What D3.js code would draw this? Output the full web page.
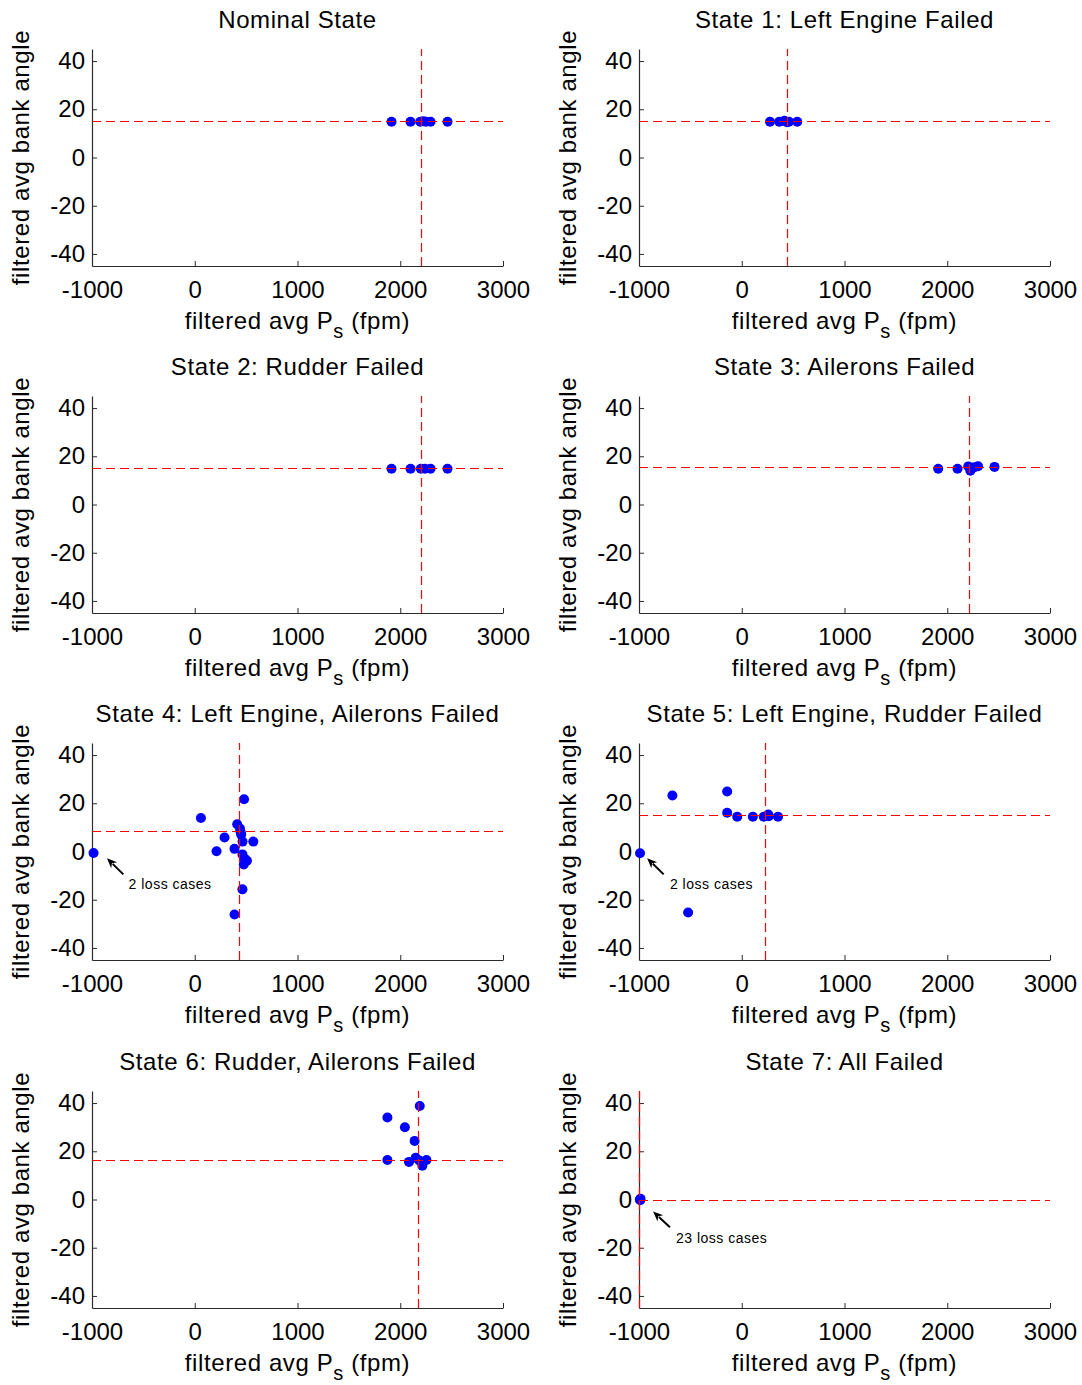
<!DOCTYPE html>
<html>
<head>
<meta charset="utf-8">
<script src="https://cdn.jsdelivr.net/npm/d3@7"></script>
<style>
  body { margin: 0; background: #fff; }
  svg { display: block; }
  text { font-family: "Liberation Sans", Arial, Helvetica, sans-serif; fill: #000; }
</style>
</head>
<body>
<svg id="chart" width="1082" height="1385"></svg>
<script>
// ---- panel titles and shared axis settings ----
const titles = [
  "Nominal State",
  "State 1: Left Engine Failed",
  "State 2: Rudder Failed",
  "State 3: Ailerons Failed",
  "State 4: Left Engine, Ailerons Failed",
  "State 5: Left Engine, Rudder Failed",
  "State 6: Rudder, Ailerons Failed",
  "State 7: All Failed"
];
const xTickValues = [-1000, 0, 1000, 2000, 3000];
const yTickValues = [-40, -20, 0, 20, 40];
const xDomain = [-1000, 3000];
const yDomain = [-45, 45];

// ---- filtered averages per run (Ps in fpm, bank angle in deg) ----
const nominalX = [1915, 2100, 2195, 2225, 2250, 2295, 2460];
const nominalY = [14.8, 14.8, 14.8, 15.0, 14.8, 14.8, 14.8];
const state1X = [275, 365, 415, 440, 460, 540];
const state1Y = [14.8, 14.8, 15.2, 14.6, 14.8, 14.8];
const state2X = [1915, 2100, 2200, 2240, 2295, 2460];
const state2Y = [14.8, 14.8, 14.8, 14.8, 14.8, 14.8];
const state3X = [1912, 2100, 2205, 2225, 2240, 2265, 2300, 2460];
const state3Y = [14.8, 14.8, 15.8, 14.0, 15.0, 15.5, 15.9, 15.6];
const state4X = [-985, 60, 480, 413, 440, 447, 452, 290, 465, 570, 212, 387, 464, 487, 508, 477, 464, 387];
const state4Y = [-0.6, 13.9, 21.7, 11.3, 9.5, 8.0, 7.0, 5.8, 4.1, 4.1, 0.1, 1.1, -1.2, -3.0, -3.8, -5.4, -15.7, -26.1];
const state5X = [-990, -675, -522, -142, -142, -44, 108, 214, 258, 264, 353];
const state5Y = [-0.7, 23.2, -25.3, 24.9, 16.1, 14.4, 14.4, 14.4, 15.3, 14.6, 14.4];
const state6X = [1875, 2190, 2045, 2140, 1875, 2085, 2150, 2185, 2215, 2255];
const state6Y = [34.0, 38.8, 30.0, 24.3, 16.4, 15.6, 17.3, 16.2, 14.0, 16.4];
const state7X = [-992, -988, -985];
const state7Y = [0.0, -0.3, 0.3];

// ---- mean reference lines (dashed crosshair) per state ----
const refX = [2205, 440, 2205, 2210, 430, 228, 2170, -1000];
const refY = [15.1, 15.3, 15.0, 15.6, 8.4, 15.0, 16.5, 0];

// ---- loss-case callouts ----
const notePanel = [4, 5, 7];
const noteText = ["2 loss cases", "2 loss cases", "23 loss cases"];
const noteTipX = [-854, -921, -863];
const noteTipY = [-2.8, -2.8, -5.0];
const noteTailX = [-695, -760, -699];
const noteTailY = [-9.5, -9.5, -11.5];
const noteLabelX = [-644, -699, -640];
const noteLabelY = [-15.4, -15.4, -17.9];

const seriesX = [nominalX, state1X, state2X, state3X, state4X, state5X, state6X, state7X];
const seriesY = [nominalY, state1Y, state2Y, state3Y, state4Y, state5Y, state6Y, state7Y];

// ---- layout ----
const colLeft = [92, 639];
const rowTop = [49, 396, 743, 1091];
const plotW = 411;
const plotH = 217;

const svg = d3.select("#chart");
const plainNumber = d => String(d); // ASCII hyphen for negatives

titles.forEach((title, i) => {
  const col = i % 2, row = Math.floor(i / 2);
  const x0 = colLeft[col], y0 = rowTop[row];
  const g = svg.append("g").attr("transform", `translate(${x0},${y0})`);

  const x = d3.scaleLinear().domain(xDomain).range([0, plotW]);
  const y = d3.scaleLinear().domain(yDomain).range([plotH, 0]);

  // axes (ticks point inward, no box)
  const xAxis = d3.axisBottom(x).tickValues(xTickValues).tickFormat(plainNumber)
    .tickSizeInner(-5).tickSizeOuter(0).tickPadding(15);
  const yAxis = d3.axisLeft(y).tickValues(yTickValues).tickFormat(plainNumber)
    .tickSizeInner(-5).tickSizeOuter(0).tickPadding(7);

  const gx = g.append("g").attr("transform", `translate(0,${plotH})`).call(xAxis);
  const gy = g.append("g").call(yAxis);
  [gx, gy].forEach(a => {
    a.selectAll("path.domain").attr("stroke", "#2b2b2b").attr("stroke-width", 1.2);
    a.selectAll(".tick line").attr("stroke", "#2b2b2b").attr("stroke-width", 1);
    a.selectAll(".tick text")
      .attr("font-family", "'Liberation Sans', Arial, sans-serif")
      .attr("font-size", 24).attr("fill", "#000");
  });

  // title
  g.append("text")
    .attr("x", plotW / 2).attr("y", -21)
    .attr("text-anchor", "middle")
    .attr("font-size", 24).attr("letter-spacing", 0.6)
    .text(title);

  // x label with subscript
  const xl = g.append("text")
    .attr("x", plotW / 2).attr("y", plotH + 63)
    .attr("text-anchor", "middle")
    .attr("font-size", 24).attr("letter-spacing", 0.6);
  xl.append("tspan").text("filtered avg P");
  xl.append("tspan").attr("dy", 9).attr("font-size", 20).text("s");
  xl.append("tspan").attr("dy", -9).text(" (fpm)");

  // y label
  g.append("text")
    .attr("transform", `translate(-63,${plotH / 2}) rotate(-90)`)
    .attr("text-anchor", "middle")
    .attr("font-size", 24).attr("letter-spacing", 0.6)
    .text("filtered avg bank angle");

  // points
  const pts = seriesX[i].map((v, k) => [v, seriesY[i][k]]);
  g.append("g").selectAll("circle").data(pts).join("circle")
    .attr("cx", d => x(d[0])).attr("cy", d => y(d[1]))
    .attr("r", 5).attr("fill", "#0000ff");

  // dashed reference crosshair
  g.append("line")
    .attr("x1", x(xDomain[0])).attr("x2", x(xDomain[1]))
    .attr("y1", Math.round(y(refY[i])) + 0.5).attr("y2", Math.round(y(refY[i])) + 0.5)
    .attr("stroke", "#ff0000").attr("stroke-width", 1)
    .attr("stroke-dasharray", "9,5");
  g.append("line")
    .attr("x1", Math.round(x(refX[i])) + 0.5).attr("x2", Math.round(x(refX[i])) + 0.5)
    .attr("y1", y(yDomain[0])).attr("y2", y(yDomain[1]))
    .attr("stroke", "#ff0000").attr("stroke-width", 1.2)
    .attr("stroke-dasharray", "9,5");

  // callouts
  notePanel.forEach((p, n) => {
    if (p !== i) return;
    const tx = x(noteTipX[n]), ty = y(noteTipY[n]);
    const sx = x(noteTailX[n]), sy = y(noteTailY[n]);
    const ang = Math.atan2(ty - sy, tx - sx);
    const len = 10, half = 4.2;
    const bx = tx - len * Math.cos(ang), by = ty - len * Math.sin(ang);
    const nx = -Math.sin(ang), ny = Math.cos(ang);
    g.append("line")
      .attr("x1", sx).attr("y1", sy)
      .attr("x2", bx + 2 * Math.cos(ang)).attr("y2", by + 2 * Math.sin(ang))
      .attr("stroke", "#000").attr("stroke-width", 2);
    g.append("path")
      .attr("d", d3.line()([
        [tx, ty],
        [bx + half * nx, by + half * ny],
        [tx - (len - 3) * Math.cos(ang), ty - (len - 3) * Math.sin(ang)],
        [bx - half * nx, by - half * ny]
      ]) + "Z")
      .attr("fill", "#000");
    g.append("text")
      .attr("x", x(noteLabelX[n])).attr("y", y(noteLabelY[n]))
      .attr("font-family", "Lato, 'Open Sans', sans-serif")
      .attr("font-size", 14).attr("letter-spacing", 0.5)
      .text(noteText[n]);
  });
});
</script>
</body>
</html>
